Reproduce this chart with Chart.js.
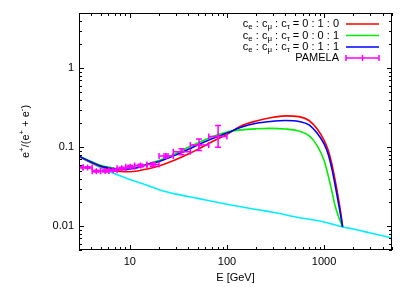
<!DOCTYPE html>
<html lang="en">
<head>
<meta charset="UTF-8">
<title>Positron fraction</title>
<script src="https://cdn.jsdelivr.net/npm/chart.js"></script>
<style>
    body { margin: 0; background: #fff; }
    #wrap { width: 409px; height: 287px; }
</style>
</head>
<body>
<div id="wrap"><canvas id="fracChart" width="409" height="287"></canvas></div>
<script>
// model curves, sampled on one energy grid (GeV)
const energyGrid = [3, 4, 5, 6, 7, 8, 10, 12, 15, 20, 25, 30, 40, 50, 70, 100, 140, 200, 280, 400, 550, 700, 850, 1000, 1100, 1200, 1300, 1400, 1500, 1550];
const ratio010 = [0.076, 0.064, 0.057, 0.053, 0.051, 0.0495, 0.049, 0.050, 0.053, 0.058, 0.064, 0.070, 0.082, 0.094, 0.117, 0.146, 0.186, 0.215, 0.236, 0.249, 0.244, 0.218, 0.170, 0.122, 0.092, 0.062, 0.038, 0.023, 0.0135, 0.0098];
const ratio001 = [0.077, 0.066, 0.059, 0.056, 0.054, 0.053, 0.054, 0.056, 0.061, 0.068, 0.076, 0.084, 0.100, 0.113, 0.136, 0.156, 0.166, 0.171, 0.173, 0.170, 0.160, 0.140, 0.104, 0.068, 0.044, 0.028, 0.018, 0.0135, 0.0108, 0.0098];
const ratio011 = [0.077, 0.065, 0.058, 0.055, 0.053, 0.0525, 0.053, 0.055, 0.060, 0.066, 0.073, 0.080, 0.094, 0.107, 0.128, 0.151, 0.179, 0.201, 0.212, 0.218, 0.212, 0.192, 0.150, 0.110, 0.082, 0.054, 0.033, 0.020, 0.0125, 0.0098];

// background only
const bgEnergy = [3, 4, 5, 7, 10, 15, 20, 30, 50, 100, 200, 300, 500, 1000, 1550, 2000, 3000, 5000];
const bgRatio = [0.076, 0.063, 0.055, 0.046, 0.039, 0.033, 0.029, 0.0255, 0.0225, 0.019, 0.0163, 0.015, 0.0132, 0.0113, 0.0098, 0.0092, 0.0082, 0.0071];

// PAMELA points
const pamelaE = [2.99, 3.68, 4.52, 5.58, 6.76, 8.26, 10.1, 12.9, 17.3, 23.6, 34.0, 51.6, 81.1];
const pamelaELow = [2.7, 3.3, 4.1, 5.0, 6.1, 7.4, 9.1, 11.2, 15.0, 20.0, 28.0, 42.0, 65.0];
const pamelaEHigh = [3.3, 4.1, 5.0, 6.1, 7.4, 9.1, 11.2, 15.0, 20.0, 28.0, 42.0, 65.0, 100.0];
const pamelaFrac = [0.0556, 0.0555, 0.0498, 0.0500, 0.0511, 0.0540, 0.0565, 0.0585, 0.0605, 0.0775, 0.0875, 0.107, 0.137];
const pamelaErrLow = [0.0012, 0.0012, 0.0012, 0.0013, 0.0014, 0.0016, 0.002, 0.0022, 0.003, 0.004, 0.007, 0.016, 0.037];
const pamelaErrHigh = [0.0012, 0.0012, 0.0012, 0.0013, 0.0014, 0.0016, 0.002, 0.0022, 0.003, 0.0045, 0.008, 0.02, 0.052];

const legendRatios = ['0 : 1 : 0', '0 : 0 : 1', '0 : 1 : 1'];
const xTickLabels = [10, 100, 1000];
const yTickLabels = [0.01, 0.1, 1];

const FONT = '"Liberation Sans", Arial, sans-serif';
const RED = '#ff0000', GREEN = '#00ee00', BLUE = '#0000ff', CYAN = '#00eeff', MAGENTA = '#ff00ff';

function pts(xs, ys) {
    return xs.map((x, i) => ({ x: x, y: ys[i] }));
}

function isLabel(v, list) {
    return list.some(t => Math.abs(v - t) / t < 1e-6);
}

function drawRich(ctx, parts, x, y, size) {
    let cx = x;
    ctx.textAlign = 'left';
    ctx.textBaseline = 'middle';
    for (const p of parts) {
        const small = p.s ? size * 0.72 : size;
        ctx.font = small + 'px ' + FONT;
        let dy = 0;
        if (p.s === 'sub') dy = size * 0.3;
        if (p.s === 'sup') dy = -size * 0.35;
        ctx.fillText(p.t, cx, y + dy);
        cx += ctx.measureText(p.t).width;
    }
}

function richWidth(ctx, parts, size) {
    let w = 0;
    for (const p of parts) {
        ctx.font = (p.s ? size * 0.72 : size) + 'px ' + FONT;
        w += ctx.measureText(p.t).width;
    }
    return w;
}

// error bars for the PAMELA set, through the chart scales
const errorBars = {
    id: 'errorBars',
    afterDatasetsDraw(chart) {
        const { ctx, chartArea, scales: { x, y } } = chart;
        ctx.save();
        ctx.beginPath();
        ctx.rect(chartArea.left, chartArea.top, chartArea.right - chartArea.left, chartArea.bottom - chartArea.top);
        ctx.clip();
        ctx.strokeStyle = MAGENTA;
        ctx.lineWidth = 1.5;
        const cap = 3;
        pamelaE.forEach((e, i) => {
            const px = x.getPixelForValue(e);
            const xl = x.getPixelForValue(pamelaELow[i]);
            const xr = x.getPixelForValue(pamelaEHigh[i]);
            const py = y.getPixelForValue(pamelaFrac[i]);
            const yl = y.getPixelForValue(pamelaFrac[i] - pamelaErrLow[i]);
            const yh = y.getPixelForValue(pamelaFrac[i] + pamelaErrHigh[i]);
            ctx.beginPath();
            ctx.moveTo(xl, py); ctx.lineTo(xr, py);
            ctx.moveTo(xl, py - cap); ctx.lineTo(xl, py + cap);
            ctx.moveTo(xr, py - cap); ctx.lineTo(xr, py + cap);
            ctx.moveTo(px, yl); ctx.lineTo(px, yh);
            ctx.moveTo(px - cap, yl); ctx.lineTo(px + cap, yl);
            ctx.moveTo(px - cap, yh); ctx.lineTo(px + cap, yh);
            ctx.stroke();
        });
        ctx.restore();
    }
};

// gnuplot style frame, inward ticks, legend and y label
const frame = {
    id: 'frame',
    afterDraw(chart) {
        const { ctx, chartArea: a, scales: { x, y } } = chart;
        ctx.save();
        ctx.strokeStyle = '#000';
        ctx.lineWidth = 1;
        ctx.strokeRect(a.left + 0.5, a.top + 0.5, a.right - a.left - 1, a.bottom - a.top - 1);

        ctx.beginPath();
        for (let d = 0; d <= 3; d++) {
            for (let m = 1; m <= 9; m++) {
                const v = m * Math.pow(10, d);
                if (v < x.min || v > x.max) continue;
                const px = Math.round(x.getPixelForValue(v)) + 0.5;
                const len = m === 1 ? 5 : 3;
                ctx.moveTo(px, a.bottom); ctx.lineTo(px, a.bottom - len);
                ctx.moveTo(px, a.top); ctx.lineTo(px, a.top + len);
            }
        }
        for (let d = -3; d <= 0; d++) {
            for (let m = 1; m <= 9; m++) {
                const v = m * Math.pow(10, d);
                if (v < y.min || v > y.max) continue;
                const py = Math.round(y.getPixelForValue(v)) + 0.5;
                const len = m === 1 ? 5 : 3;
                ctx.moveTo(a.left, py); ctx.lineTo(a.left + len, py);
                ctx.moveTo(a.right, py); ctx.lineTo(a.right - len, py);
            }
        }
        ctx.stroke();

        // legend
        ctx.fillStyle = '#000';
        const size = 11;
        const textRight = 339, lineL = 346, lineR = 379;
        const rowY = [24, 35.5, 47, 58];
        const colors = [RED, GREEN, BLUE];
        legendRatios.forEach((r, i) => {
            const parts = [
                { t: 'c' }, { t: 'e', s: 'sub' }, { t: ' : c' }, { t: 'μ', s: 'sub' },
                { t: ' : c' }, { t: 'τ', s: 'sub' }, { t: ' = ' + r }
            ];
            const w = richWidth(ctx, parts, size);
            drawRich(ctx, parts, textRight - w, rowY[i], size);
            ctx.strokeStyle = colors[i];
            ctx.lineWidth = 1.5;
            ctx.beginPath();
            ctx.moveTo(lineL, rowY[i]); ctx.lineTo(lineR, rowY[i]);
            ctx.stroke();
        });
        ctx.font = size + 'px ' + FONT;
        ctx.textAlign = 'right';
        ctx.fillText('PAMELA', textRight, rowY[3]);
        ctx.strokeStyle = MAGENTA;
        ctx.lineWidth = 1.5;
        ctx.beginPath();
        const mid = (lineL + lineR) / 2;
        ctx.moveTo(lineL, rowY[3]); ctx.lineTo(lineR, rowY[3]);
        ctx.moveTo(lineL, rowY[3] - 3); ctx.lineTo(lineL, rowY[3] + 3);
        ctx.moveTo(lineR, rowY[3] - 3); ctx.lineTo(lineR, rowY[3] + 3);
        ctx.moveTo(mid, rowY[3] - 3); ctx.lineTo(mid, rowY[3] + 3);
        ctx.stroke();

        // y axis title
        const yParts = [
            { t: 'e' }, { t: '+', s: 'sup' }, { t: '/(e' }, { t: '+', s: 'sup' },
            { t: ' + e' }, { t: '-', s: 'sup' }, { t: ')' }
        ];
        ctx.translate(26, (a.top + a.bottom) / 2);
        ctx.rotate(-Math.PI / 2);
        const yw = richWidth(ctx, yParts, size);
        drawRich(ctx, yParts, -yw / 2, 0, size);
        ctx.restore();
    }
};

const tickFont = { family: FONT, size: 11 };

new Chart(document.getElementById('fracChart'), {
    type: 'line',
    data: {
        datasets: [
            { label: 'PAMELA', type: 'scatter', data: pts(pamelaE, pamelaFrac), borderColor: MAGENTA, backgroundColor: MAGENTA,
              pointStyle: 'cross', pointRadius: 3, borderWidth: 1.5, showLine: false, order: 0 },
            { label: 'ce:cmu:ctau = 0:1:1', data: pts(energyGrid, ratio011), borderColor: BLUE, order: 1 },
            { label: 'ce:cmu:ctau = 0:0:1', data: pts(energyGrid, ratio001), borderColor: GREEN, order: 2 },
            { label: 'ce:cmu:ctau = 0:1:0', data: pts(energyGrid, ratio010), borderColor: RED, order: 3 },
            { label: 'background', data: pts(bgEnergy, bgRatio), borderColor: CYAN, order: 4 }
        ]
    },
    options: {
        responsive: false,
        animation: false,
        events: [],
        layout: { padding: { top: 13, right: 17, left: 0, bottom: 0 } },
        elements: {
            point: { radius: 0 },
            line: { borderWidth: 1.6, fill: false, cubicInterpolationMode: 'monotone' }
        },
        plugins: { legend: { display: false }, tooltip: { enabled: false } },
        scales: {
            x: {
                type: 'logarithmic', min: 3, max: 5000,
                grid: { display: false, drawTicks: false }, border: { display: false },
                ticks: {
                    autoSkip: false, maxRotation: 0, padding: 5, color: '#000', font: tickFont,
                    callback: v => isLabel(v, xTickLabels) ? String(v) : ''
                },
                title: { display: true, text: 'E [GeV]', color: '#000', font: tickFont, padding: { top: 0, bottom: 2 } },
                afterFit(s) { s.height = 37; }
            },
            y: {
                type: 'logarithmic', min: 0.005, max: 5,
                grid: { display: false, drawTicks: false }, border: { display: false },
                ticks: {
                    autoSkip: false, padding: 5, color: '#000', font: tickFont,
                    callback: v => isLabel(v, yTickLabels) ? String(v) : ''
                },
                afterFit(s) { s.width = 79; }
            }
        }
    },
    plugins: [errorBars, frame]
});
</script>
</body>
</html>
